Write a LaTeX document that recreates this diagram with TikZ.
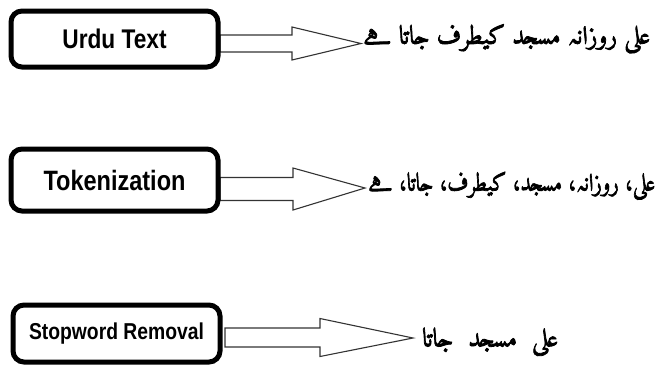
\documentclass[tikz,border=0pt]{standalone}
\usepackage{fontspec}
\usepackage{graphicx}
\usetikzlibrary{calc}
\TeXXeTstate=1
\newfontfamily\labfont[FakeStretch=0.84]{Liberation Sans}
\IfFontExistsTF{Amiri}
  {\newfontfamily\urdufont[Script=Arabic,FakeBold=3]{Amiri}}
  {\newfontfamily\urdufont[Script=Arabic,FakeBold=2.5]{DejaVu Sans}}
\newcommand\blockarr[5]{%
  \draw[arr] ($(#1)+(0,-#4)$) -- ($(#1)+(#3,-#4)$) -- ($(#1)+(#3,-#5)$) -- (#2)
    -- ($(#1)+(#3,#5)$) -- ($(#1)+(#3,#4)$) -- ($(#1)+(0,#4)$) -- cycle;}
\begin{document}
\begin{tikzpicture}[x=1pt,y=-1pt,
  box/.style={draw=black,line width=5pt,rounded corners=11pt,minimum width=207pt,
    inner sep=0pt,fill=white,font=\labfont\bfseries},
  arr/.style={draw=black!80,line width=1.1pt,fill=white,line join=miter},
  urdu/.style={inner sep=0pt,anchor=west}]
\fill[white] (0,0) rectangle (661,368);
\useasboundingbox (0,0) rectangle (661,368);
% arrows (drawn first so the boxes cover their left ends)
\coordinate (s1) at (220,43.5);
\coordinate (e1) at (361,43.5);
\coordinate (s2) at (220,189);
\coordinate (e2) at (365,188);
\coordinate (s3) at (225,337.5);
\coordinate (e3) at (413,338);
\blockarr{s1}{e1}{72}{8.5}{16.5}
\blockarr{s2}{e2}{73}{11.5}{21}
\blockarr{s3}{e3}{95}{9.5}{19}
% boxes
\node[box,minimum height=56pt,font=\labfont\bfseries\fontsize{27}{30}\selectfont] (b1) at (114.5,39) {Urdu Text};
\node[box,minimum height=62pt,font=\labfont\bfseries\fontsize{28}{30}\selectfont] (b2) at (114.5,180) {Tokenization};
\node[box,minimum height=57pt,font=\labfont\bfseries\fontsize{23}{26}\selectfont] (b3) at (116.5,333.5) {Stopword Removal};
% Urdu texts
\node[urdu] (t1) at (363,39) {\resizebox{287pt}{\height}{\urdufont\fontsize{26}{28}\selectfont\beginR علی روزانہ مسجد کیطرف جاتا ہے\endR}};
\node[urdu] (t2) at (368,186) {\resizebox{287pt}{\height}{\urdufont\fontsize{25}{28}\selectfont\beginR علی، روزانہ، مسجد، کیطرف، جاتا، ہے\endR}};
\node[urdu] (t3) at (422,342) {\resizebox{136pt}{\height}{\urdufont\fontsize{26}{28}\selectfont\beginR علی\hspace{0.6em}مسجد\hspace{0.6em}جاتا\endR}};
\end{tikzpicture}
\end{document}
